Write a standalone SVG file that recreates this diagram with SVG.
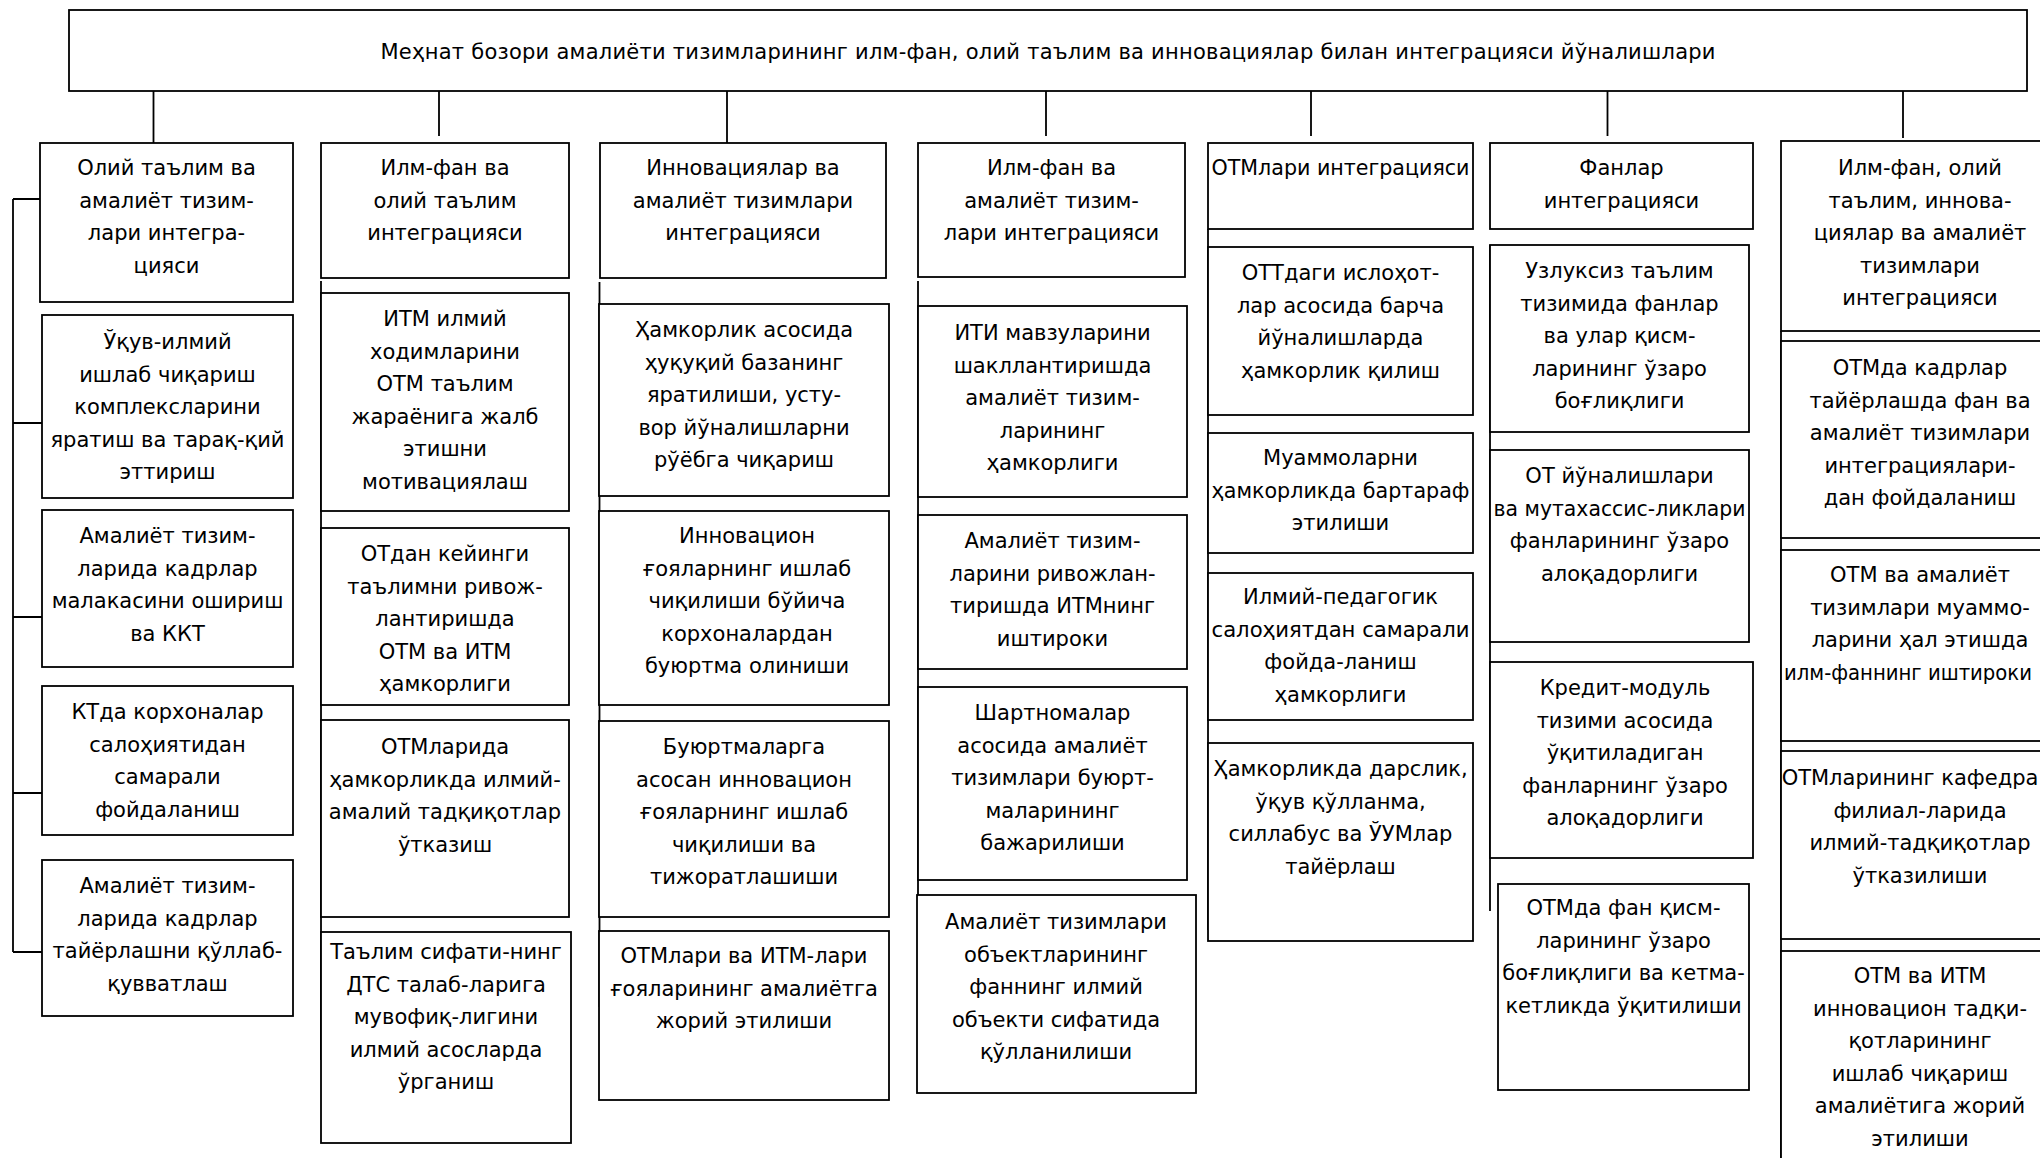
<svg xmlns="http://www.w3.org/2000/svg" width="2040" height="1158" viewBox="0 0 2040 1158">
<style>
.box{fill:#fff;stroke:#000;stroke-width:1.8}
.t{font-family:"DejaVu Sans",Verdana,sans-serif;font-size:21px;text-anchor:middle;fill:#000}
.ti{font-family:"DejaVu Sans",Verdana,sans-serif;font-size:21px;text-anchor:middle;fill:#000}
.ln{stroke:#000;stroke-width:1.8;fill:none}
</style>
<rect width="2040" height="1158" fill="#fff"/>
<g id="connectors">
<path class="ln" d="M153.5,91V143M439,91V136M727,91V143M1046,91V136M1311,91V136M1607.5,91V136M1903,91V138"/>
<path class="ln" d="M13,199V952M13,199H40M13,423H42M13,617H42M13,793H42M13,952H42"/>
<path class="ln" d="M321,281V1060M599.5,282V1007M918,281V1027M1208,229V930M1490,245V911M1781,331V1158"/>
</g>
<g id="title">
<rect class="box" x="69" y="10" width="1958" height="81"/>
<text class="ti" x="1048" y="59" textLength="1335" lengthAdjust="spacing">Меҳнат бозори амалиёти тизимларининг илм-фан, олий таълим ва инновациялар билан интеграцияси йўналишлари</text>
</g>
<g id="c1h"><rect class="box" x="40" y="143" width="253" height="159"/>
<text class="t"><tspan x="166.5" y="175">Олий таълим ва</tspan><tspan x="166.5" y="207.5">амалиёт тизим-</tspan><tspan x="166.5" y="240">лари интегра-</tspan><tspan x="166.5" y="272.5">цияси</tspan></text></g>
<g id="c1b2"><rect class="box" x="42" y="315" width="251" height="183"/>
<text class="t"><tspan x="167.5" y="349">Ўқув-илмий</tspan><tspan x="167.5" y="381.5">ишлаб чиқариш</tspan><tspan x="167.5" y="414">комплексларини</tspan><tspan x="167.5" y="446.5">яратиш ва тарақ-қий</tspan><tspan x="167.5" y="479">эттириш</tspan></text></g>
<g id="c1b3"><rect class="box" x="42" y="510" width="251" height="157"/>
<text class="t"><tspan x="167.5" y="543">Амалиёт тизим-</tspan><tspan x="167.5" y="575.5">ларида кадрлар</tspan><tspan x="167.5" y="608">малакасини ошириш</tspan><tspan x="167.5" y="640.5">ва ККТ</tspan></text></g>
<g id="c1b4"><rect class="box" x="42" y="686" width="251" height="149"/>
<text class="t"><tspan x="167.5" y="719">КТда корхоналар</tspan><tspan x="167.5" y="751.5">салоҳиятидан</tspan><tspan x="167.5" y="784">самарали</tspan><tspan x="167.5" y="816.5">фойдаланиш</tspan></text></g>
<g id="c1b5"><rect class="box" x="42" y="860" width="251" height="156"/>
<text class="t"><tspan x="167.5" y="893">Амалиёт тизим-</tspan><tspan x="167.5" y="925.5">ларида кадрлар</tspan><tspan x="167.5" y="958">тайёрлашни қўллаб-</tspan><tspan x="167.5" y="990.5">қувватлаш</tspan></text></g>

<g id="c2h"><rect class="box" x="321" y="143" width="248" height="135"/>
<text class="t"><tspan x="445" y="175">Илм-фан ва</tspan><tspan x="445" y="207.5">олий таълим</tspan><tspan x="445" y="240">интеграцияси</tspan></text></g>
<g id="c2b2"><rect class="box" x="321" y="293" width="248" height="218"/>
<text class="t"><tspan x="445" y="326">ИТМ илмий</tspan><tspan x="445" y="358.5">ходимларини</tspan><tspan x="445" y="391">ОТМ таълим</tspan><tspan x="445" y="423.5">жараёнига жалб</tspan><tspan x="445" y="456">этишни</tspan><tspan x="445" y="488.5">мотивациялаш</tspan></text></g>
<g id="c2b3"><rect class="box" x="321" y="528" width="248" height="177"/>
<text class="t"><tspan x="445" y="561">ОТдан кейинги</tspan><tspan x="445" y="593.5">таълимни ривож-</tspan><tspan x="445" y="626">лантиришда</tspan><tspan x="445" y="658.5">ОТМ ва ИТМ</tspan><tspan x="445" y="691">ҳамкорлиги</tspan></text></g>
<g id="c2b4"><rect class="box" x="321" y="720" width="248" height="197"/>
<text class="t"><tspan x="445" y="754">ОТМларида</tspan><tspan x="445" y="786.5">ҳамкорликда илмий-</tspan><tspan x="445" y="819">амалий тадқиқотлар</tspan><tspan x="445" y="851.5">ўтказиш</tspan></text></g>
<g id="c2b5"><rect class="box" x="321" y="932" width="250" height="211"/>
<text class="t"><tspan x="446" y="959">Таълим сифати-нинг</tspan><tspan x="446" y="991.5">ДТС талаб-ларига</tspan><tspan x="446" y="1024">мувофиқ-лигини</tspan><tspan x="446" y="1056.5">илмий асосларда</tspan><tspan x="446" y="1089">ўрганиш</tspan></text></g>

<g id="c3h"><rect class="box" x="600" y="143" width="286" height="135"/>
<text class="t"><tspan x="743" y="175">Инновациялар ва</tspan><tspan x="743" y="207.5">амалиёт тизимлари</tspan><tspan x="743" y="240">интеграцияси</tspan></text></g>
<g id="c3b2"><rect class="box" x="599" y="304" width="290" height="192"/>
<text class="t"><tspan x="744" y="337">Ҳамкорлик асосида</tspan><tspan x="744" y="369.5">ҳуқуқий базанинг</tspan><tspan x="744" y="402">яратилиши, усту-</tspan><tspan x="744" y="434.5">вор йўналишларни</tspan><tspan x="744" y="467">рўёбга чиқариш</tspan></text></g>
<g id="c3b3"><rect class="box" x="599" y="511" width="290" height="194"/>
<text class="t"><tspan x="747" y="543">Инновацион</tspan><tspan x="747" y="575.5">ғояларнинг ишлаб</tspan><tspan x="747" y="608">чиқилиши бўйича</tspan><tspan x="747" y="640.5">корхоналардан</tspan><tspan x="747" y="673">буюртма олиниши</tspan></text></g>
<g id="c3b4"><rect class="box" x="599" y="721" width="290" height="196"/>
<text class="t"><tspan x="744" y="754">Буюртмаларга</tspan><tspan x="744" y="786.5">асосан инновацион</tspan><tspan x="744" y="819">ғояларнинг ишлаб</tspan><tspan x="744" y="851.5">чиқилиши ва</tspan><tspan x="744" y="884">тижоратлашиши</tspan></text></g>
<g id="c3b5"><rect class="box" x="599" y="931" width="290" height="169"/>
<text class="t"><tspan x="744" y="963">ОТМлари ва ИТМ-лари</tspan><tspan x="744" y="995.5">ғояларининг амалиётга</tspan><tspan x="744" y="1028">жорий этилиши</tspan></text></g>

<g id="c4h"><rect class="box" x="918" y="143" width="267" height="134"/>
<text class="t"><tspan x="1051.5" y="175">Илм-фан ва</tspan><tspan x="1051.5" y="207.5">амалиёт тизим-</tspan><tspan x="1051.5" y="240">лари интеграцияси</tspan></text></g>
<g id="c4b2"><rect class="box" x="918" y="306" width="269" height="191"/>
<text class="t"><tspan x="1052.5" y="340">ИТИ мавзуларини</tspan><tspan x="1052.5" y="372.5">шакллантиришда</tspan><tspan x="1052.5" y="405">амалиёт тизим-</tspan><tspan x="1052.5" y="437.5">ларининг</tspan><tspan x="1052.5" y="470">ҳамкорлиги</tspan></text></g>
<g id="c4b3"><rect class="box" x="918" y="515" width="269" height="154"/>
<text class="t"><tspan x="1052.5" y="548">Амалиёт тизим-</tspan><tspan x="1052.5" y="580.5">ларини ривожлан-</tspan><tspan x="1052.5" y="613">тиришда ИТМнинг</tspan><tspan x="1052.5" y="645.5">иштироки</tspan></text></g>
<g id="c4b4"><rect class="box" x="918" y="687" width="269" height="193"/>
<text class="t"><tspan x="1052.5" y="720">Шартномалар</tspan><tspan x="1052.5" y="752.5">асосида амалиёт</tspan><tspan x="1052.5" y="785">тизимлари буюрт-</tspan><tspan x="1052.5" y="817.5">маларининг</tspan><tspan x="1052.5" y="850">бажарилиши</tspan></text></g>
<g id="c4b5"><rect class="box" x="917" y="895" width="279" height="198"/>
<text class="t"><tspan x="1056" y="929">Амалиёт тизимлари</tspan><tspan x="1056" y="961.5">объектларининг</tspan><tspan x="1056" y="994">фаннинг илмий</tspan><tspan x="1056" y="1026.5">объекти сифатида</tspan><tspan x="1056" y="1059">қўлланилиши</tspan></text></g>

<g id="c5h"><rect class="box" x="1208" y="143" width="265" height="86"/>
<text class="t" x="1340.5" y="175" textLength="258" lengthAdjust="spacingAndGlyphs">ОТМлари интеграцияси</text></g>
<g id="c5b2"><rect class="box" x="1208" y="247" width="265" height="168"/>
<text class="t"><tspan x="1340.5" y="280">ОТТдаги ислоҳот-</tspan><tspan x="1340.5" y="312.5">лар асосида барча</tspan><tspan x="1340.5" y="345">йўналишларда</tspan><tspan x="1340.5" y="377.5">ҳамкорлик қилиш</tspan></text></g>
<g id="c5b3"><rect class="box" x="1208" y="433" width="265" height="120"/>
<text class="t"><tspan x="1340.5" y="465">Муаммоларни</tspan></text>
<text class="t" x="1340.5" y="497.5" textLength="258" lengthAdjust="spacingAndGlyphs">ҳамкорликда бартараф</text>
<text class="t"><tspan x="1340.5" y="530">этилиши</tspan></text></g>
<g id="c5b4"><rect class="box" x="1208" y="573" width="265" height="147"/>
<text class="t"><tspan x="1340.5" y="604">Илмий-педагогик</tspan></text>
<text class="t" x="1340.5" y="636.5" textLength="258" lengthAdjust="spacingAndGlyphs">салоҳиятдан самарали</text>
<text class="t"><tspan x="1340.5" y="669">фойда-ланиш</tspan><tspan x="1340.5" y="701.5">ҳамкорлиги</tspan></text></g>
<g id="c5b5"><rect class="box" x="1208" y="743" width="265" height="198"/>
<text class="t"><tspan x="1340.5" y="776">Ҳамкорликда дарслик,</tspan><tspan x="1340.5" y="808.5">ўқув қўлланма,</tspan><tspan x="1340.5" y="841">силлабус ва ЎУМлар</tspan><tspan x="1340.5" y="873.5">тайёрлаш</tspan></text></g>

<g id="c6h"><rect class="box" x="1490" y="143" width="263" height="86"/>
<text class="t"><tspan x="1621.5" y="175">Фанлар</tspan><tspan x="1621.5" y="207.5">интеграцияси</tspan></text></g>
<g id="c6b2"><rect class="box" x="1490" y="245" width="259" height="187"/>
<text class="t"><tspan x="1619.5" y="278">Узлуксиз таълим</tspan><tspan x="1619.5" y="310.5">тизимида фанлар</tspan><tspan x="1619.5" y="343">ва улар қисм-</tspan><tspan x="1619.5" y="375.5">ларининг ўзаро</tspan><tspan x="1619.5" y="408">боғлиқлиги</tspan></text></g>
<g id="c6b3"><rect class="box" x="1490" y="450" width="259" height="192"/>
<text class="t"><tspan x="1619.5" y="483">ОТ йўналишлари</tspan></text>
<text class="t" x="1619.5" y="515.5" textLength="252" lengthAdjust="spacingAndGlyphs">ва мутахассис-ликлари</text>
<text class="t"><tspan x="1619.5" y="548">фанларининг ўзаро</tspan><tspan x="1619.5" y="580.5">алоқадорлиги</tspan></text></g>
<g id="c6b4"><rect class="box" x="1490" y="662" width="263" height="196"/>
<text class="t"><tspan x="1625" y="695">Кредит-модуль</tspan><tspan x="1625" y="727.5">тизими асосида</tspan><tspan x="1625" y="760">ўқитиладиган</tspan><tspan x="1625" y="792.5">фанларнинг ўзаро</tspan><tspan x="1625" y="825">алоқадорлиги</tspan></text></g>
<g id="c6b5"><rect class="box" x="1498" y="884" width="251" height="206"/>
<text class="t"><tspan x="1623.5" y="915">ОТМда фан қисм-</tspan><tspan x="1623.5" y="947.5">ларининг ўзаро</tspan><tspan x="1623.5" y="980">боғлиқлиги ва кетма-</tspan><tspan x="1623.5" y="1012.5">кетликда ўқитилиши</tspan></text></g>

<g id="c7h"><rect class="box" x="1781" y="141" width="280" height="190"/>
<text class="t"><tspan x="1920" y="175">Илм-фан, олий</tspan><tspan x="1920" y="207.5">таълим, иннова-</tspan><tspan x="1920" y="240">циялар ва амалиёт</tspan><tspan x="1920" y="272.5">тизимлари</tspan><tspan x="1920" y="305">интеграцияси</tspan></text></g>
<g id="c7b2"><rect class="box" x="1781" y="341" width="280" height="197"/>
<text class="t"><tspan x="1920" y="375">ОТМда кадрлар</tspan><tspan x="1920" y="407.5">тайёрлашда фан ва</tspan><tspan x="1920" y="440">амалиёт тизимлари</tspan><tspan x="1920" y="472.5">интеграциялари-</tspan><tspan x="1920" y="505">дан фойдаланиш</tspan></text></g>
<g id="c7b3"><rect class="box" x="1781" y="550" width="280" height="191"/>
<text class="t"><tspan x="1920" y="582">ОТМ ва амалиёт</tspan><tspan x="1920" y="614.5">тизимлари муаммо-</tspan><tspan x="1920" y="647">ларини ҳал этишда</tspan></text>
<text class="t" x="1908" y="679.5" textLength="248" lengthAdjust="spacingAndGlyphs">илм-фаннинг иштироки</text></g>
<g id="c7b4"><rect class="box" x="1781" y="751" width="280" height="188"/>
<text class="t"><tspan x="1910" y="785">ОТМларининг кафедра</tspan><tspan x="1920" y="817.5">филиал-ларида</tspan><tspan x="1920" y="850">илмий-тадқиқотлар</tspan><tspan x="1920" y="882.5">ўтказилиши</tspan></text></g>
<g id="c7b5"><rect class="box" x="1781" y="951" width="280" height="240"/>
<text class="t"><tspan x="1920" y="983">ОТМ ва ИТМ</tspan><tspan x="1920" y="1015.5">инновацион тадқи-</tspan><tspan x="1920" y="1048">қотларининг</tspan><tspan x="1920" y="1080.5">ишлаб чиқариш</tspan><tspan x="1920" y="1113">амалиётига жорий</tspan><tspan x="1920" y="1145.5">этилиши</tspan></text></g>
</svg>
